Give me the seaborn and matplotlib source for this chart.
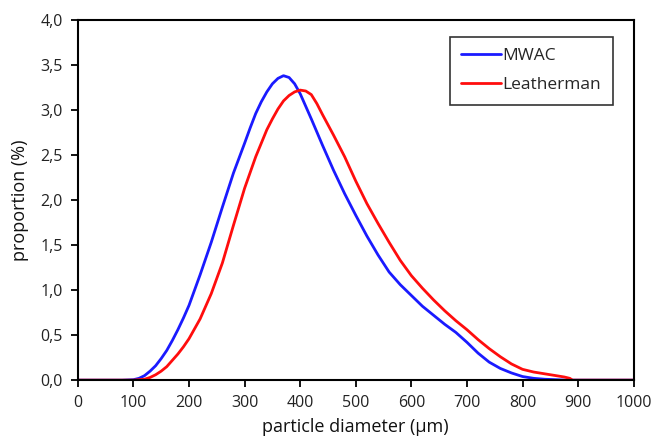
import numpy as np
import pandas as pd
import matplotlib
matplotlib.use("Agg")
import matplotlib.pyplot as plt
from matplotlib.ticker import FuncFormatter, MultipleLocator
import seaborn as sns

# Data
x_mwac = [0, 20, 40, 60, 80, 100, 110, 120, 130, 140, 150, 160, 170, 180, 190, 200,
          220, 240, 260, 280, 300, 310, 320, 330, 340, 350, 360, 370, 380, 390, 400,
          410, 420, 440, 460, 480, 500, 520, 540, 560, 580, 600, 620, 640, 660, 680,
          700, 720, 740, 760, 780, 800, 820, 840, 860, 880, 900, 950, 1000]
y_mwac = [0, 0, 0, 0, 0, 0.005, 0.02, 0.05, 0.1, 0.16, 0.24, 0.33, 0.44, 0.56, 0.69, 0.83,
          1.17, 1.53, 1.92, 2.3, 2.63, 2.8, 2.96, 3.09, 3.2, 3.29, 3.35, 3.38, 3.36, 3.29, 3.18,
          3.04, 2.9, 2.61, 2.33, 2.07, 1.83, 1.6, 1.39, 1.2, 1.06, 0.94, 0.82, 0.72, 0.62, 0.53,
          0.42, 0.3, 0.2, 0.13, 0.08, 0.04, 0.02, 0.01, 0.005, 0, 0, 0, 0]

x_leather = [0, 20, 40, 60, 80, 100, 120, 130, 140, 150, 160, 170, 180, 190, 200, 220,
             240, 260, 280, 300, 320, 340, 350, 360, 370, 380, 390, 400, 410, 420, 430,
             440, 460, 480, 500, 520, 540, 560, 580, 600, 620, 640, 660, 680, 700, 720,
             740, 760, 780, 800, 820, 840, 860, 875, 885, 890, 900, 950, 1000]
y_leather = [0, 0, 0, 0, 0, 0, 0.01, 0.03, 0.06, 0.1, 0.15, 0.22, 0.29, 0.37, 0.46, 0.68,
             0.96, 1.3, 1.72, 2.13, 2.48, 2.78, 2.9, 3.01, 3.1, 3.16, 3.2, 3.22, 3.21, 3.17, 3.07,
             2.95, 2.72, 2.48, 2.21, 1.96, 1.74, 1.53, 1.33, 1.16, 1.02, 0.89, 0.77, 0.66, 0.56, 0.45,
             0.35, 0.26, 0.18, 0.12, 0.09, 0.07, 0.05, 0.035, 0.02, 0.0, 0, 0, 0]

series_names = ["MWAC", "Leatherman"]
colors = ["#1a1aff", "#ff0d0d"]

df = pd.concat([
    pd.DataFrame({"x": x_mwac, "y": y_mwac, "series": series_names[0]}),
    pd.DataFrame({"x": x_leather, "y": y_leather, "series": series_names[1]}),
])

sns.set_style("white")
plt.rcParams["font.family"] = ["Open Sans", "DejaVu Sans"]

fig = plt.figure(figsize=(6.54, 4.41), dpi=100)
ax = fig.add_axes([0.119, 0.138, 0.850, 0.817])

sns.lineplot(data=df, x="x", y="y", hue="series", palette=colors, linewidth=2.0,
             ax=ax, sort=False, estimator=None)

ax.set_xlim(0, 1000)
ax.set_ylim(0, 4.0)
ax.xaxis.set_major_locator(MultipleLocator(100))
ax.yaxis.set_major_locator(MultipleLocator(0.5))
ax.yaxis.set_major_formatter(FuncFormatter(lambda v, p: f"{v:.1f}".replace(".", ",")))
ax.xaxis.set_major_formatter(FuncFormatter(lambda v, p: f"{int(round(v))}"))

for s in ax.spines.values():
    s.set_color("black")
    s.set_linewidth(1.5)
ax.tick_params(axis="both", direction="out", length=5, width=1.3, color="black",
               labelsize=11.5, labelcolor="#222222", bottom=True, left=True, pad=6)

ax.set_xlabel("particle diameter (µm)", fontsize=13, color="#111111", labelpad=5)
ax.set_ylabel("proportion (%)", fontsize=13, color="#111111", labelpad=8)

leg = ax.legend(loc="upper right", bbox_to_anchor=(0.962, 0.953), borderaxespad=0,
                frameon=True, fancybox=False, edgecolor="black", fontsize=12.5,
                handlelength=2.3, borderpad=0.65, labelspacing=0.75, handletextpad=0.1,
                title=None)
leg.get_frame().set_linewidth(1.2)

fig.savefig("out.png", dpi=100, facecolor="white")
